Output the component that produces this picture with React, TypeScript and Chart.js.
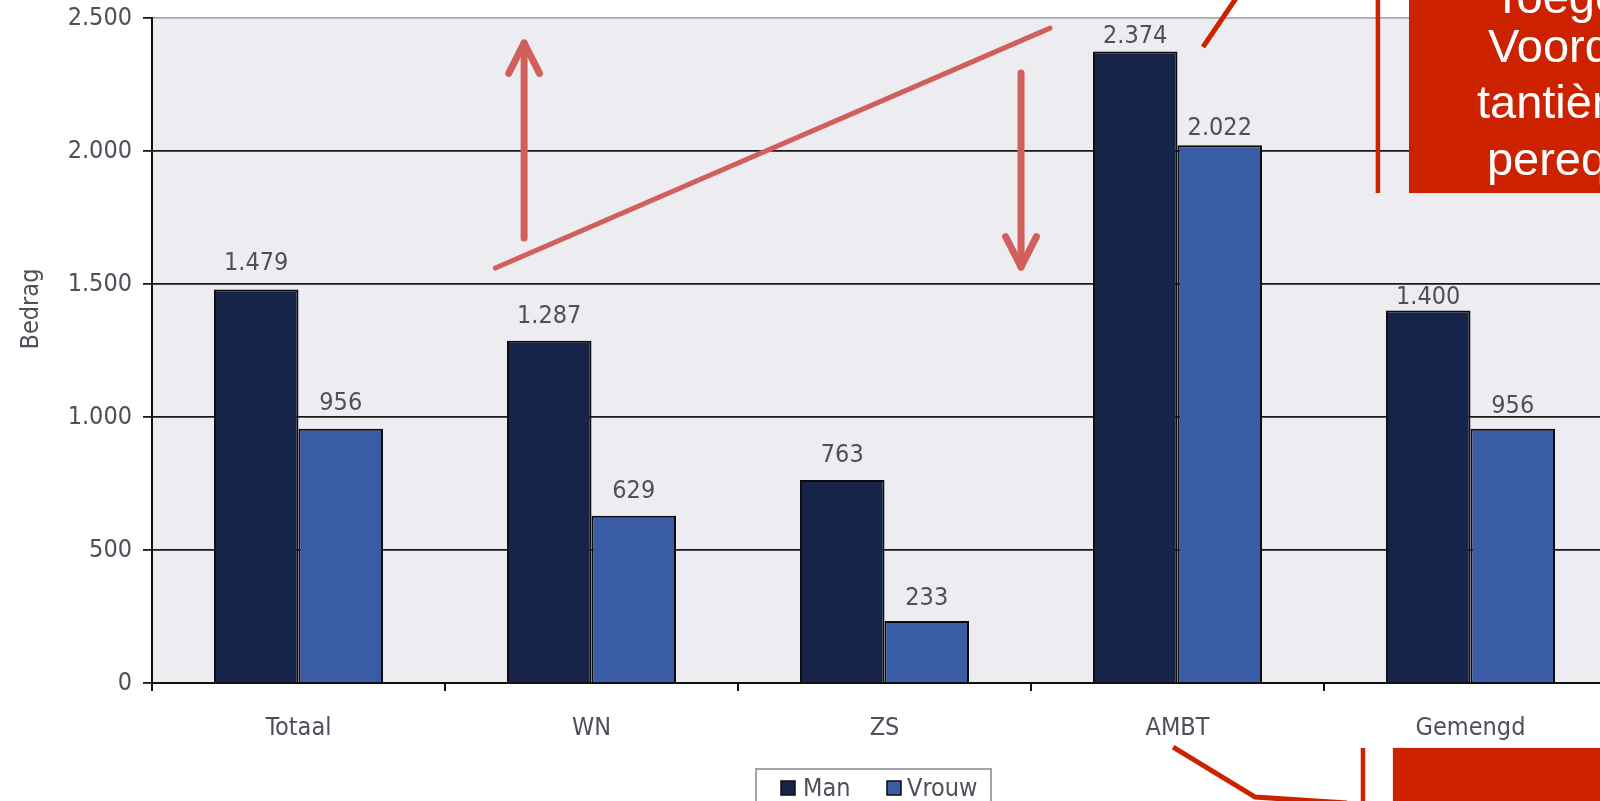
import React, { useEffect, useRef } from 'react';
import { Chart, registerables } from 'chart.js';

Chart.register(...registerables);

// ---- data ----
const categories = ['Totaal', 'WN', 'ZS', 'AMBT', 'Gemengd'];
const seriesLabels = ['Man', 'Vrouw'];
const manValues = [1479, 1287, 763, 2374, 1400];
const vrouwValues = [956, 629, 233, 2022, 956];
const yTicks = [0, 500, 1000, 1500, 2000, 2500];
const yTitle = 'Bedrag';
const noteLines = ['Toegekende', 'Voordelen', 'tantièmes', 'perequatie'];

// ---- styles ----
const FONT = "'DejaVu Sans Condensed', 'DejaVu Sans', sans-serif";
const TEXT = '#4f4f5a';
const MAN = '#16244a';
const VROUW = '#3a5ba5';
const PLOT_BG = '#ececf1';
const SALMON = '#d1605a';
const RED = '#cc2200';
// gap (px) between bar top and the value label baseline
const labelGapMan = [20, 18, 18, 9, 7];
const labelGapVrouw = [19, 18, 16, 10, 16];

// overlay annotations, in [category index, value] units
const trendLine = [[0.672, 1560], [2.565, 2462]];
const upArrow = [[0.77, 1673], [0.77, 2406]];
const downArrow = [[2.466, 2293], [2.466, 1564]];
const calloutTop = [[3.087, 2391], [3.217, 2602]];
const calloutBottom = [[2.985, -241], [3.265, -429], [3.578, -451]];
const noteBox = { i0: 3.79, i1: 5.3, v0: 1842, v1: 2700 };
const noteRule = { i: 3.684, v0: 1842, v1: 2700 };
const bottomBox = { i0: 3.735, i1: 5.3, v0: -244, v1: -520 };
const bottomRule = { i: 3.633, v0: -244, v1: -520 };
const noteTextX = [4.077, 4.06, 4.022, 4.056];
const noteTextV = [2519, 2335, 2124, 1910];

function fmt(n: number): string {
  return String(n).replace(/\B(?=(\d{3})+(?!\d))/g, '.');
}

function drawArrow(ctx: CanvasRenderingContext2D, x1: number, y1: number, x2: number, y2: number) {
  ctx.beginPath();
  ctx.moveTo(x1, y1);
  ctx.lineTo(x2, y2);
  ctx.stroke();
  const ang = Math.atan2(y2 - y1, x2 - x1);
  const len = 34;
  const spread = 0.47;
  ctx.beginPath();
  ctx.moveTo(x2 - len * Math.cos(ang - spread), y2 - len * Math.sin(ang - spread));
  ctx.lineTo(x2, y2);
  ctx.lineTo(x2 - len * Math.cos(ang + spread), y2 - len * Math.sin(ang + spread));
  ctx.stroke();
}

const decor = {
  id: 'decor',
  beforeDraw(chart: any) {
    const { ctx, chartArea } = chart;
    ctx.save();
    ctx.fillStyle = PLOT_BG;
    ctx.fillRect(chartArea.left, chartArea.top, chartArea.right - chartArea.left, chartArea.bottom - chartArea.top);
    // value labels
    ctx.font = `25px ${FONT}`;
    ctx.fillStyle = TEXT;
    ctx.textAlign = 'center';
    ctx.textBaseline = 'alphabetic';
    chart.data.datasets.forEach((ds: any, di: number) => {
      const meta = chart.getDatasetMeta(di);
      const gaps = di === 0 ? labelGapMan : labelGapVrouw;
      meta.data.forEach((el: any, j: number) => {
        ctx.fillText(fmt(ds.data[j]), el.x, el.y - gaps[j]);
      });
    });
    ctx.restore();
  },
  afterDraw(chart: any) {
    const { ctx } = chart;
    const xs = chart.scales.x;
    const ys = chart.scales.y;
    const X = (i: number) => xs.getPixelForValue(i);
    const Y = (v: number) => ys.getPixelForValue(v);
    ctx.save();

    // y-axis title
    ctx.save();
    ctx.translate(31, 309);
    ctx.rotate(-Math.PI / 2);
    ctx.font = `25px ${FONT}`;
    ctx.fillStyle = TEXT;
    ctx.textAlign = 'center';
    ctx.textBaseline = 'middle';
    ctx.fillText(yTitle, 0, 0);
    ctx.restore();

    // legend
    const lx0 = 756, lx1 = 991, ly0 = 769;
    ctx.fillStyle = '#ffffff';
    ctx.fillRect(lx0, ly0, lx1 - lx0, 40);
    ctx.strokeStyle = '#a4a4a4';
    ctx.lineWidth = 2;
    ctx.strokeRect(lx0, ly0, lx1 - lx0, 40);
    const items = [
      { sx: 781, tx: 803 },
      { sx: 887, tx: 907 },
    ];
    chart.data.datasets.forEach((ds: any, di: number) => {
      const it = items[di];
      ctx.fillStyle = ds.backgroundColor;
      ctx.fillRect(it.sx, 781, 14, 14);
      ctx.strokeStyle = '#0b0b0b';
      ctx.lineWidth = 1.5;
      ctx.strokeRect(it.sx, 781, 14, 14);
      ctx.font = `25px ${FONT}`;
      ctx.fillStyle = TEXT;
      ctx.textAlign = 'left';
      ctx.textBaseline = 'alphabetic';
      ctx.fillText(ds.label, it.tx, 796);
    });

    // salmon trend line and arrows
    ctx.strokeStyle = SALMON;
    ctx.lineCap = 'round';
    ctx.lineJoin = 'round';
    ctx.lineWidth = 5;
    ctx.beginPath();
    ctx.moveTo(X(trendLine[0][0]), Y(trendLine[0][1]));
    ctx.lineTo(X(trendLine[1][0]), Y(trendLine[1][1]));
    ctx.stroke();
    ctx.lineWidth = 7;
    drawArrow(ctx, X(upArrow[0][0]), Y(upArrow[0][1]), X(upArrow[1][0]), Y(upArrow[1][1]));
    drawArrow(ctx, X(downArrow[0][0]), Y(downArrow[0][1]), X(downArrow[1][0]), Y(downArrow[1][1]));

    // red callouts
    ctx.strokeStyle = RED;
    ctx.fillStyle = RED;
    ctx.lineWidth = 5;
    ctx.lineCap = 'butt';
    ctx.lineJoin = 'miter';
    ctx.beginPath();
    ctx.moveTo(X(calloutTop[0][0]), Y(calloutTop[0][1]));
    ctx.lineTo(X(calloutTop[1][0]), Y(calloutTop[1][1]));
    ctx.stroke();
    ctx.beginPath();
    calloutBottom.forEach((p, k) => {
      if (k === 0) ctx.moveTo(X(p[0]), Y(p[1]));
      else ctx.lineTo(X(p[0]), Y(p[1]));
    });
    ctx.stroke();
    ctx.lineWidth = 4.5;
    ctx.beginPath();
    ctx.moveTo(X(noteRule.i), Y(noteRule.v0));
    ctx.lineTo(X(noteRule.i), Y(noteRule.v1));
    ctx.moveTo(X(bottomRule.i), Y(bottomRule.v0));
    ctx.lineTo(X(bottomRule.i), Y(bottomRule.v1));
    ctx.stroke();
    const rect = (b: any) => {
      const x0 = X(b.i0), x1 = X(b.i1), y0 = Y(b.v0), y1 = Y(b.v1);
      ctx.fillRect(Math.min(x0, x1), Math.min(y0, y1), Math.abs(x1 - x0), Math.abs(y1 - y0));
    };
    rect(noteBox);
    rect(bottomBox);

    ctx.fillStyle = '#ffffff';
    ctx.font = "47px 'Liberation Sans', Arial, sans-serif";
    ctx.textAlign = 'left';
    ctx.textBaseline = 'alphabetic';
    noteLines.forEach((t, k) => {
      ctx.fillText(t, X(noteTextX[k]), Y(noteTextV[k]));
    });

    ctx.restore();
  },
};

export default function App() {
  const ref = useRef<HTMLCanvasElement>(null);
  useEffect(() => {
    const canvas = ref.current as HTMLCanvasElement;
    const tickFont = { family: FONT, size: 25 };
    const chart = new Chart(canvas, {
      type: 'bar',
      data: {
        labels: categories,
        datasets: [
          {
            label: seriesLabels[0],
            data: manValues,
            backgroundColor: MAN,
            borderColor: '#0b0b0b',
            borderWidth: 2,
            categoryPercentage: 0.577,
            barPercentage: 1,
          },
          {
            label: seriesLabels[1],
            data: vrouwValues,
            backgroundColor: VROUW,
            borderColor: '#0b0b0b',
            borderWidth: 2,
            categoryPercentage: 0.577,
            barPercentage: 1,
          },
        ],
      },
      options: {
        responsive: false,
        animation: false,
        devicePixelRatio: 1,
        layout: { padding: { top: 18, right: 8, left: 0, bottom: 0 } },
        plugins: { legend: { display: false }, tooltip: { enabled: false } },
        scales: {
          x: {
            grid: {
              offset: true,
              drawOnChartArea: false,
              drawTicks: true,
              tickLength: 8,
              color: '#111111',
              lineWidth: 2,
            },
            border: { color: '#111111', width: 2 },
            ticks: { font: tickFont, color: TEXT, padding: 22, autoSkip: false, maxRotation: 0 },
            afterFit: (s: any) => {
              s.height = 118;
              s.paddingLeft = 0;
              s.paddingRight = 0;
            },
          },
          y: {
            min: 0,
            max: 2500,
            afterBuildTicks: (s: any) => {
              s.ticks = yTicks.map((v) => ({ value: v }));
            },
            ticks: {
              font: tickFont,
              color: TEXT,
              padding: 11,
              callback: (v: any) => fmt(Number(v)),
            },
            grid: {
              color: (c: any) => (c.tick && c.tick.value === 2500 ? '#a9a9a9' : '#1a1a1a'),
              tickColor: '#1a1a1a',
              lineWidth: 1.8,
              tickLength: 9,
            },
            border: { color: '#111111', width: 2 },
            afterFit: (s: any) => {
              s.width = 152;
              s.paddingTop = 0;
              s.paddingBottom = 0;
            },
          },
        },
      },
      plugins: [decor],
    } as any);
    return () => chart.destroy();
  }, []);

  return (
    <div
      style={{
        position: 'fixed',
        left: 0,
        top: 0,
        width: 1600,
        height: 801,
        overflow: 'hidden',
        background: '#ffffff',
      }}
    >
      <canvas ref={ref} width={1625} height={801} style={{ display: 'block', width: 1625, height: 801 }} />
    </div>
  );
}
